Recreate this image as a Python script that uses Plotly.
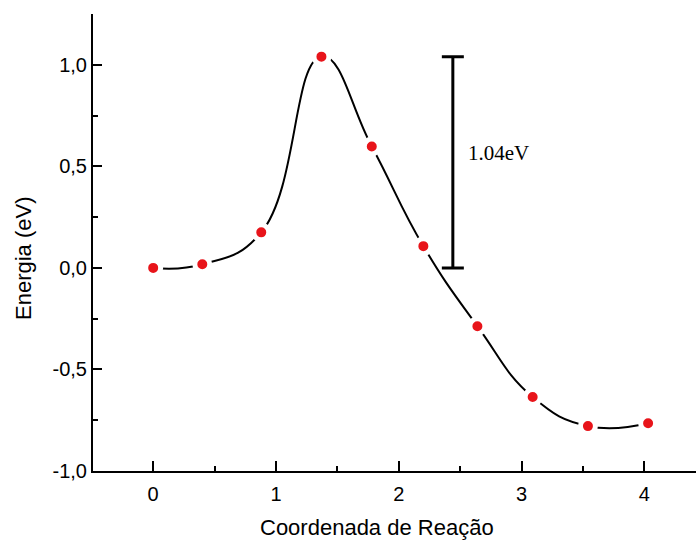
import plotly.graph_objects as go

# Reaction path: coordinate and relative energy (eV)
coord = [0.0, 0.40, 0.88, 1.37, 1.78, 2.20, 2.64, 3.09, 3.54, 4.03]
energy = [0.0, 0.018, 0.175, 1.04, 0.598, 0.107, -0.287, -0.636, -0.779, -0.765]

# Barrier marker
barrier_x = 2.44
barrier_low = 0.0
barrier_high = 1.04
barrier_label = "1.04eV"

x_tick_vals = [0, 1, 2, 3, 4]
y_tick_vals = [-1.0, -0.5, 0.0, 0.5, 1.0]
y_tick_text = ["-1,0", "-0,5", "0,0", "0,5", "1,0"]

W, H = 696, 541
L, R, T, B = 93, 0, 14, 70


def px_to_paper(px, py):
    return (px - L) / (W - L - R), (H - B - py) / (H - T - B)


fig = go.Figure()

# smooth curve through the points
fig.add_trace(go.Scatter(
    x=coord, y=energy, mode="lines",
    line=dict(color="black", width=2, shape="spline", smoothing=1.3),
    hoverinfo="skip", showlegend=False,
))

# red points with a white halo so the curve breaks around them
fig.add_trace(go.Scatter(
    x=coord, y=energy, mode="markers",
    marker=dict(color="#e8141a", size=15, line=dict(color="white", width=5)),
    showlegend=False,
))

# vertical barrier bar with caps
mid = (barrier_low + barrier_high) / 2
half = (barrier_high - barrier_low) / 2
fig.add_trace(go.Scatter(
    x=[barrier_x], y=[mid], mode="markers",
    marker=dict(size=1, color="rgba(0,0,0,0)"),
    error_y=dict(type="data", array=[half], symmetric=True,
                 color="black", thickness=3, width=11),
    showlegend=False, hoverinfo="skip",
))

fig.add_annotation(
    x=2.55, y=0.564, xref="x", yref="y", text=barrier_label,
    showarrow=False, xanchor="left", yanchor="middle",
    font=dict(family="Liberation Serif", size=21, color="black"),
)

# axis titles
tx, ty = px_to_paper(377, 527)
fig.add_annotation(
    x=tx, y=ty, xref="paper", yref="paper", text="Coordenada de Reação",
    showarrow=False, xanchor="center", yanchor="middle",
    font=dict(family="Liberation Sans", size=22, color="black"),
)
tx, ty = px_to_paper(23, 258)
fig.add_annotation(
    x=tx, y=ty, xref="paper", yref="paper", text="Energia (eV)", textangle=-90,
    showarrow=False, xanchor="center", yanchor="middle",
    font=dict(family="Liberation Sans", size=22, color="black"),
)

fig.update_layout(
    width=W, height=H,
    margin=dict(l=L, r=R, t=T, b=B, pad=0),
    plot_bgcolor="white", paper_bgcolor="white",
    font=dict(family="Liberation Sans", size=20, color="black"),
)

fig.update_xaxes(
    range=[-0.49, 4.42], showgrid=False, zeroline=False,
    showline=True, linecolor="black", linewidth=2,
    tickmode="array", tickvals=x_tick_vals,
    ticks="inside", ticklen=10, tickwidth=2, tickcolor="black",
    minor=dict(ticks="inside", ticklen=5, tickwidth=2, tickcolor="black", dtick=0.5, tick0=0),
    ticklabelstandoff=4,
    tickfont=dict(family="Liberation Sans", size=20, color="black"),
)
fig.update_yaxes(
    range=[-1.0, 1.25], showgrid=False, zeroline=False,
    showline=True, linecolor="black", linewidth=2,
    tickmode="array", tickvals=y_tick_vals, ticktext=y_tick_text,
    ticks="inside", ticklen=9, tickwidth=2, tickcolor="black",
    minor=dict(ticks="inside", ticklen=5, tickwidth=2, tickcolor="black", dtick=0.25, tick0=0),
    ticklabelstandoff=0,
    tickfont=dict(family="Liberation Sans", size=20, color="black"),
)

fig.write_html("out.html")
